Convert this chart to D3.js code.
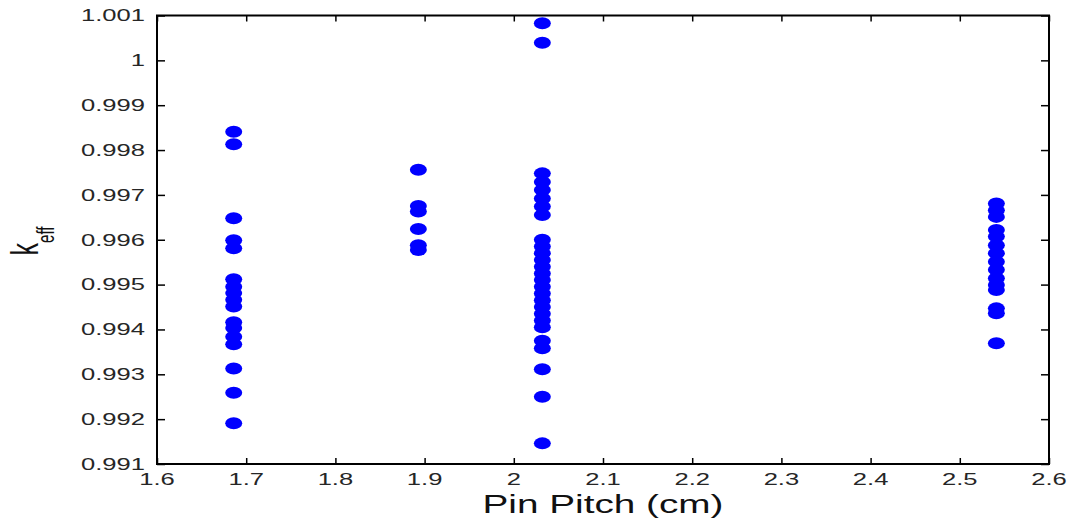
<!DOCTYPE html>
<html>
<head>
<meta charset="utf-8">
<script src="https://cdn.jsdelivr.net/npm/d3@7"></script>
<style>
  html, body { margin: 0; padding: 0; background: #fff; }
  svg { display: block; font-family: "Liberation Sans", Arial, sans-serif; }
</style>
</head>
<body>
<svg id="chart" width="1075" height="524"></svg>
<script>
// ---- data ----
const pitches = [1.686, 1.893, 2.032, 2.541];
const keffPitch1686 = [0.99841, 0.99813, 0.99648, 0.99599, 0.99581, 0.99512, 0.99495, 0.99481,
  0.99466, 0.99451, 0.99416, 0.99403, 0.99384, 0.99367, 0.99313, 0.99259, 0.99191];
const keffPitch1893 = [0.99756, 0.99675, 0.99663, 0.99624, 0.99588, 0.99577];
const keffPitch2032 = [1.000826, 1.000394, 0.99748, 0.99729, 0.99711, 0.99692, 0.99674, 0.99655,
  0.99600, 0.99585, 0.99570, 0.99555, 0.99540, 0.99525, 0.99510, 0.99495, 0.99480, 0.99465,
  0.99450, 0.99435, 0.99420, 0.99405, 0.99375, 0.99358, 0.99311, 0.99250, 0.99146];
const keffPitch2541 = [0.99681, 0.99666, 0.99651, 0.99622, 0.99607, 0.99588, 0.99570, 0.99551,
  0.99533, 0.99514, 0.99499, 0.99488, 0.99447, 0.99436, 0.99369];
const xTicks = [1.6, 1.7, 1.8, 1.9, 2.0, 2.1, 2.2, 2.3, 2.4, 2.5, 2.6];
const yTicks = [0.991, 0.992, 0.993, 0.994, 0.995, 0.996, 0.997, 0.998, 0.999, 1.0, 1.001];
const xLabel = "Pin Pitch (cm)";
const yLabelMain = "k";
const yLabelSub = "eff";

const groups = [keffPitch1686, keffPitch1893, keffPitch2032, keffPitch2541];
const points = [];
groups.forEach((vals, i) => vals.forEach(v => points.push({x: pitches[i], y: v})));

// ---- layout ----
const L = 157, R = 1049, T = 15.5, B = 464;
const SX = 1.55; // horizontal stretch of the reference image
const svg = d3.select("#chart");
const x = d3.scaleLinear().domain([1.6, 2.6]).range([L, R]);
const y = d3.scaleLinear().domain([0.991, 1.001]).range([B, T]);

// points
svg.append("g").selectAll("ellipse").data(points).join("ellipse")
  .attr("cx", d => x(d.x)).attr("cy", d => y(d.y))
  .attr("rx", 8.5).attr("ry", 6)
  .attr("fill", "#0000ff");

// axes (inside ticks, on all four sides)
const tickStyle = g => {
  g.select(".domain").remove();
  g.selectAll(".tick line").attr("stroke", "#000").attr("stroke-width", 1.5);
  g.selectAll(".tick text").remove();
};
svg.append("g").attr("transform", `translate(0,${B})`)
  .call(d3.axisBottom(x).tickValues(xTicks).tickSize(-6)).call(tickStyle);
svg.append("g").attr("transform", `translate(0,${T})`)
  .call(d3.axisTop(x).tickValues(xTicks).tickSize(-6)).call(tickStyle);
svg.append("g").attr("transform", `translate(${L},0)`)
  .call(d3.axisLeft(y).tickValues(yTicks).tickSize(-8)).call(tickStyle);
svg.append("g").attr("transform", `translate(${R},0)`)
  .call(d3.axisRight(y).tickValues(yTicks).tickSize(-8)).call(tickStyle);

// box
svg.append("rect").attr("x", L).attr("y", T).attr("width", R - L).attr("height", B - T)
  .attr("fill", "none").attr("stroke", "#000").attr("stroke-width", 2);

// tick labels
const fmtY = d => String(+d.toFixed(3));
const fmtX = d => String(+d.toFixed(1));
svg.append("g").selectAll("text").data(yTicks).join("text")
  .attr("transform", d => `translate(145,${y(d)}) scale(${SX},1)`)
  .attr("dy", "0.35em").attr("text-anchor", "end")
  .attr("font-size", 16.5).attr("fill", "#262626")
  .text(fmtY);
svg.append("g").selectAll("text").data(xTicks).join("text")
  .attr("transform", d => `translate(${x(d)},485) scale(${SX},1)`)
  .attr("text-anchor", "middle")
  .attr("font-size", 16.5).attr("fill", "#262626")
  .text(fmtX);

// axis titles
svg.append("text")
  .attr("transform", `translate(${(L + R) / 2},513) scale(${SX},1)`)
  .attr("text-anchor", "middle").attr("font-size", 25).attr("fill", "#111")
  .text(xLabel);

const yt = svg.append("text")
  .attr("transform", `translate(38,241) scale(${SX},1) rotate(-90)`)
  .attr("text-anchor", "middle").attr("fill", "#111");
yt.append("tspan").attr("font-size", 25).text(yLabelMain);
yt.append("tspan").attr("font-size", 15).attr("dy", 10.5).text(yLabelSub);
</script>
</body>
</html>
